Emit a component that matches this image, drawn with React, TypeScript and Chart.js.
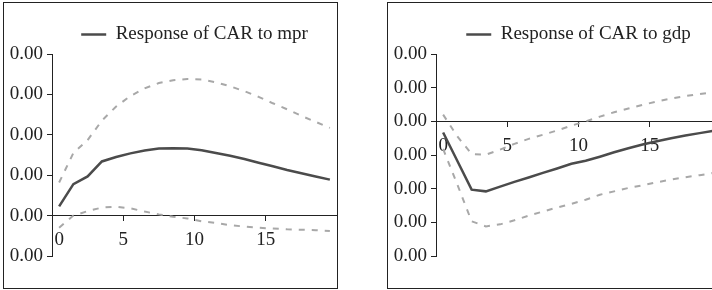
import React, { useEffect, useRef } from "react";
import { Chart, registerables } from "chart.js";

Chart.register(...registerables);

// Periods of the impulse response (plotted at the middle of each period slot)
const periods = [1, 2, 3, 4, 5, 6, 7, 8, 9, 10, 11, 12, 13, 14, 15, 16, 17, 18, 19, 20];
const xTickValues = [0, 5, 10, 15];

// Response of CAR to mpr
const mprResponse = [0.00023, 0.00078, 0.00097, 0.00134, 0.00145, 0.00154, 0.00161, 0.00166, 0.00167, 0.00166,
  0.00162, 0.00155, 0.00148, 0.0014, 0.00131, 0.00122, 0.00113, 0.00105, 0.00097, 0.00089];
const mprUpper = [0.00082, 0.00155, 0.00187, 0.00235, 0.0027, 0.00296, 0.00315, 0.00328, 0.00335, 0.00338,
  0.00337, 0.0033, 0.0032, 0.00308, 0.00294, 0.00278, 0.00263, 0.00247, 0.00232, 0.00217];
const mprLower = [-0.0003, 0.0, 0.00011, 0.0002, 0.00022, 0.00018, 0.0001, 0.00003, -0.00003, -0.00007,
  -0.00014, -0.00018, -0.00024, -0.00027, -0.0003, -0.00032, -0.00034, -0.00035, -0.00036, -0.00038];
const mprYTicks = [-0.001, 0, 0.001, 0.002, 0.003, 0.004];

// Response of CAR to gdp
const gdpResponse = [-0.00033, -0.00118, -0.00203, -0.00208, -0.00194, -0.0018, -0.00167, -0.00153, -0.0014, -0.00126,
  -0.00117, -0.00105, -0.00092, -0.0008, -0.00069, -0.00059, -0.0005, -0.00042, -0.00035, -0.00028];
const gdpUpper = [0.0002, -0.00045, -0.00097, -0.00099, -0.00084, -0.00067, -0.00052, -0.0004, -0.00027, -0.00013,
  0.0, 0.00014, 0.00027, 0.00038, 0.00049, 0.00059, 0.00068, 0.00075, 0.00081, 0.00087];
const gdpLower = [-0.00082, -0.00188, -0.00297, -0.00312, -0.00306, -0.00294, -0.0028, -0.00268, -0.00256, -0.00245,
  -0.00233, -0.00218, -0.00208, -0.00198, -0.0019, -0.00181, -0.00173, -0.00166, -0.0016, -0.00153];
const gdpYTicks = [-0.004, -0.003, -0.002, -0.001, 0, 0.001, 0.002];

const AXIS = "#222222";
const SOLID = "#4b4b4b";
const DASHED = "#a8a8a8";
const FONT = { family: "'Liberation Serif', 'Times New Roman', serif", size: 19 };

function fmt(v: number) {
  return (Math.round(v * 100) / 100 + 0).toFixed(2);
}

// the "0" label sits just right of the y axis in the original
function xLabel(v: number) {
  return v === 0 ? "   0" : String(v);
}

function toPoints(values: number[]) {
  return values.map((v, i) => ({ x: periods[i] - 0.5, y: v }));
}

function makeConfig(label: string, mid: number[], up: number[], lo: number[], yTicks: number[]): any {
  return {
    type: "line",
    data: {
      datasets: [
        { label, data: toPoints(mid), borderColor: SOLID, backgroundColor: SOLID, borderWidth: 2.5, pointRadius: 0, tension: 0 },
        { label: "upper", data: toPoints(up), borderColor: DASHED, borderWidth: 2, borderDash: [6, 7], pointRadius: 0, tension: 0 },
        { label: "lower", data: toPoints(lo), borderColor: DASHED, borderWidth: 2, borderDash: [6, 7], pointRadius: 0, tension: 0 },
      ],
    },
    options: {
      animation: false,
      responsive: false,
      events: [],
      layout: { padding: { top: 12, left: 0, right: 0, bottom: 32 } },
      plugins: {
        tooltip: { enabled: false },
        legend: {
          position: "top",
          fullSize: false,
          labels: {
            filter: (item: any) => item.datasetIndex === 0,
            usePointStyle: true,
            pointStyle: "line",
            pointStyleWidth: 25,
            padding: 10,
            font: FONT,
            color: AXIS,
          },
        },
      },
      scales: {
        x: {
          type: "linear",
          min: 0,
          max: 20,
          position: { y: 0 },
          afterBuildTicks: (s: any) => { s.ticks = xTickValues.map((v) => ({ value: v })); },
          grid: { drawOnChartArea: false, drawTicks: true, tickLength: 5, color: AXIS, lineWidth: 1 },
          border: { display: true, color: AXIS, width: 1 },
          ticks: { font: FONT, color: AXIS, padding: 8, maxRotation: 0, autoSkip: false, callback: (v: number) => xLabel(v) },
        },
        y: {
          type: "linear",
          min: yTicks[0],
          max: yTicks[yTicks.length - 1],
          position: "left",
          afterBuildTicks: (s: any) => { s.ticks = yTicks.map((v) => ({ value: v })); },
          afterFit: (s: any) => { s.width = 48; },
          grid: { drawOnChartArea: false, drawTicks: true, tickLength: 5, color: AXIS, lineWidth: 1 },
          border: { display: true, color: AXIS, width: 1 },
          ticks: { font: FONT, color: AXIS, padding: 4, autoSkip: false, callback: (v: number) => fmt(v) },
        },
      },
    },
  };
}

function Panel({ left, config }: { left: number; config: any }) {
  const ref = useRef<HTMLCanvasElement | null>(null);
  useEffect(() => {
    if (!ref.current) return;
    const chart = new Chart(ref.current, config);
    return () => chart.destroy();
  }, []);
  return (
    <div
      style={{
        position: "absolute",
        left,
        top: 2,
        width: 333,
        height: 285,
        border: `1px solid ${AXIS}`,
        background: "#fff",
      }}
    >
      <canvas ref={ref} width={333} height={285} style={{ display: "block", width: 333, height: 285 }} />
    </div>
  );
}

export default function App() {
  return (
    <div
      style={{
        position: "fixed",
        left: 0,
        top: 0,
        width: 712,
        height: 290,
        overflow: "hidden",
        background: "#fff",
      }}
    >
      <Panel left={3} config={makeConfig("Response of CAR to mpr", mprResponse, mprUpper, mprLower, mprYTicks)} />
      <Panel left={387} config={makeConfig("Response of CAR to gdp", gdpResponse, gdpUpper, gdpLower, gdpYTicks)} />
    </div>
  );
}
